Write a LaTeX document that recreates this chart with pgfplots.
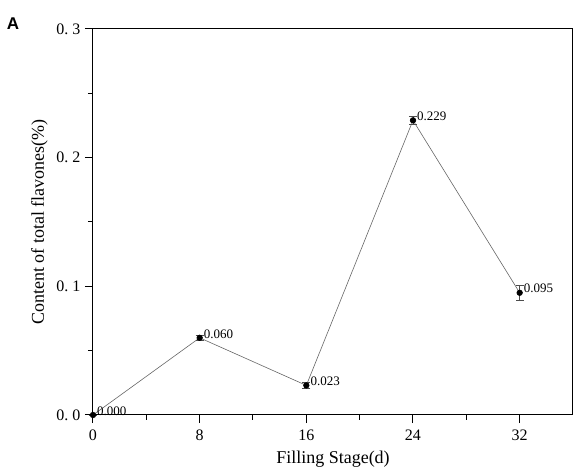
\documentclass[border=0pt]{standalone}
\usepackage{pgfplots}
\pgfplotsset{compat=1.18}
\usepackage{pgfplotstable}
\usepackage{fontspec}
\setmainfont{Liberation Serif}
\newfontfamily\labelsans{Liberation Sans}

\pgfplotstableread{
x  y      e      lab
0  0.000  0      0.000
8  0.060  0.002  0.060
16 0.023  0.002  0.023
24 0.229  0.003  0.229
32 0.095  0.006  0.095
}\flavones

\begin{document}
\begin{tikzpicture}
\path[use as bounding box] (-93pt,-56pt) rectangle (481pt,415pt);
\begin{axis}[
    at={(0,0)}, anchor=south west,
    width=480pt, height=386pt, scale only axis,
    xmin=0, xmax=36,
    ymin=0, ymax=0.3,
    xtick={0,8,16,24,32},
    xticklabels={0,8,16,24,32},
    ytick={0,0.1,0.2,0.3},
    yticklabels={0.\ 0,0.\ 1,0.\ 2,0.\ 3},
    minor x tick num=1,
    minor y tick num=1,
    tick align=outside,
    tick pos=left,
    major tick length=8pt,
    minor tick length=5pt,
    every tick/.style={black, line width=1pt},
    axis line style={line width=1pt},
    ticklabel style={font=\fontsize{16}{16}\selectfont},
    xticklabel style={yshift=-3pt},
    yticklabel style={xshift=-1pt},
    xlabel={Filling Stage(d)},
    ylabel={Content of total flavones(\%)},
    label style={font=\fontsize{18}{18}\selectfont},
    xlabel style={yshift=-4pt},
    ylabel style={yshift=2pt},
    clip=false,
]
\addplot[
    color=black!60, line width=0.6pt,
    mark=*, mark size=2.8pt,
    mark options={fill=black, draw=black},
    error bars/.cd, y dir=both, y explicit,
    error mark options={rotate=90, mark size=4pt, line width=0.7pt, black!70},
    error bar style={line width=0.7pt, black!70},
] table[x=x, y=y, y error=e] {\flavones};

\addplot[
    only marks, mark=none,
    point meta=explicit symbolic,
    nodes near coords,
    nodes near coords style={anchor=west, xshift=3pt, yshift=4pt,
        font=\fontsize{13}{13}\selectfont, text=black, inner sep=1pt},
] table[x=x, y=y, meta=lab] {\flavones};

\node[anchor=north west, inner sep=0pt, font=\labelsans\bfseries\fontsize{17}{17}\selectfont]
    at (rel axis cs:-0.180,1.030) {A};
\end{axis}
\end{tikzpicture}
\end{document}
